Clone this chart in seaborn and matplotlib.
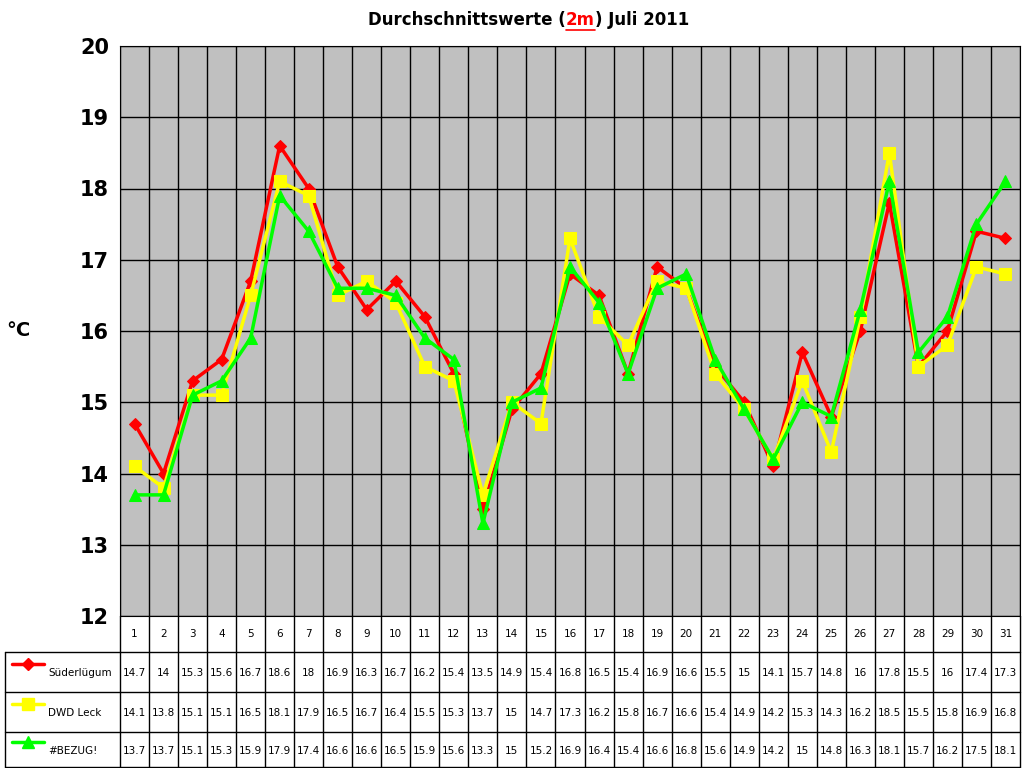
import matplotlib
matplotlib.use("Agg")
import matplotlib.pyplot as plt
import seaborn as sns
import pandas as pd
import numpy as np

days = list(range(1, 32))
sued = [14.7,14,15.3,15.6,16.7,18.6,18,16.9,16.3,16.7,16.2,15.4,13.5,14.9,15.4,16.8,16.5,15.4,16.9,16.6,15.5,15,14.1,15.7,14.8,16,17.8,15.5,16,17.4,17.3]
dwd = [14.1,13.8,15.1,15.1,16.5,18.1,17.9,16.5,16.7,16.4,15.5,15.3,13.7,15,14.7,17.3,16.2,15.8,16.7,16.6,15.4,14.9,14.2,15.3,14.3,16.2,18.5,15.5,15.8,16.9,16.8]
bezug = [13.7,13.7,15.1,15.3,15.9,17.9,17.4,16.6,16.6,16.5,15.9,15.6,13.3,15,15.2,16.9,16.4,15.4,16.6,16.8,15.6,14.9,14.2,15,14.8,16.3,18.1,15.7,16.2,17.5,18.1]
names = ["Süderlügum", "DWD Leck", "#BEZUG!"]
colors = ["#ff0000", "#ffff00", "#00ff00"]
markers = ["D", "s", "^"]
msizes = [6.5, 9, 9]
series = [sued, dwd, bezug]

sns.set_style("white")
plt.rcParams['font.family'] = ['DejaVu Sans']
plt.rcParams['text.color'] = 'black'
plt.rcParams['ytick.color'] = 'black'
fig = plt.figure(figsize=(10.24, 7.68), dpi=100)
ax = fig.add_axes([120/1024, 1-616/768, 900/1024, 570/768])
ax.set_facecolor("#c0c0c0")
for s, n, c, m, ms in zip(series, names, colors, markers, msizes):
    df = pd.DataFrame({"day": days, "v": s})
    sns.lineplot(data=df, x="day", y="v", ax=ax, color=c, marker=m, markersize=ms,
                 markeredgecolor=c, linewidth=2.5, label=n, legend=False)
ax.set_xlim(0.5, 31.5)
ax.set_ylim(12, 20)
ax.set_xticks([])
ax.set_xticks(np.arange(0.5, 32, 1), minor=True)
ax.set_yticks(range(12, 21))
ax.tick_params(axis='y', labelsize=15, length=0, pad=8, labelcolor='black')
for l in ax.get_yticklabels():
    l.set_fontweight('bold')
ax.grid(True, which='minor', axis='x', color='black', lw=1)
ax.grid(True, which='major', axis='y', color='black', lw=1)
ax.tick_params(axis='x', which='minor', length=0)
ax.set_xlabel("")
ax.set_ylabel("")
for sp in ax.spines.values():
    sp.set_color('black')
fig.text(18/1024, 1-330/768, "°C", fontsize=14, fontweight='bold', ha='center', va='center', color='black')

tx, ty = 368/1024, 1-20/768
t1 = fig.text(tx, ty, "Durchschnittswerte (", fontsize=12, fontweight='bold', va='center', color='black')
fig.canvas.draw()
r = fig.canvas.get_renderer()
bb = t1.get_window_extent(r)
t2 = fig.text(bb.x1/1024, ty, "2m", fontsize=12, fontweight='bold', va='center', color='red')
bb2 = t2.get_window_extent(r)
fig.add_artist(plt.Line2D([bb2.x0/1024, bb2.x1/1024], [(bb2.y0-1)/768]*2, color='red', lw=1.2))
fig.text(bb2.x1/1024, ty, ") Juli 2011", fontsize=12, fontweight='bold', va='center', color='black')

tab = fig.add_axes([0, 0, 1, 1], zorder=-1)
tab.set_xlim(0, 1024); tab.set_ylim(768, 0); tab.axis('off')
x0, x1 = 120, 1020
w = (x1 - x0) / 31
rows = [616, 652, 692, 732, 767]
for y in rows[1:]:
    tab.plot([5, x1], [y, y], color='black', lw=1)
tab.plot([5, 5], [rows[1], rows[-1]], color='black', lw=1)
for i in range(32):
    tab.plot([x0 + i*w]*2, [rows[0], rows[-1]], color='black', lw=1)
for i, d in enumerate(days):
    tab.text(x0 + (i+0.5)*w, (rows[0]+rows[1])/2, str(d), ha='center', va='center', fontsize=7.5, color='black')
for k, (s, n, c, m, ms) in enumerate(zip(series, names, colors, markers, msizes)):
    yc = (rows[k+1] + rows[k+2]) / 2
    tab.plot([12, 44], [yc-8, yc-8], color=c, lw=2.5)
    tab.plot([28], [yc-8], marker=m, color=c, markersize=ms)
    tab.text(48, yc+1, n, fontsize=7.5, va='center', color='black')
    for i, v in enumerate(s):
        tab.text(x0 + (i+0.5)*w, yc+1, f"{v:g}", ha='center', va='center', fontsize=7.5, color='black')

fig.savefig("out.png", dpi=100)
